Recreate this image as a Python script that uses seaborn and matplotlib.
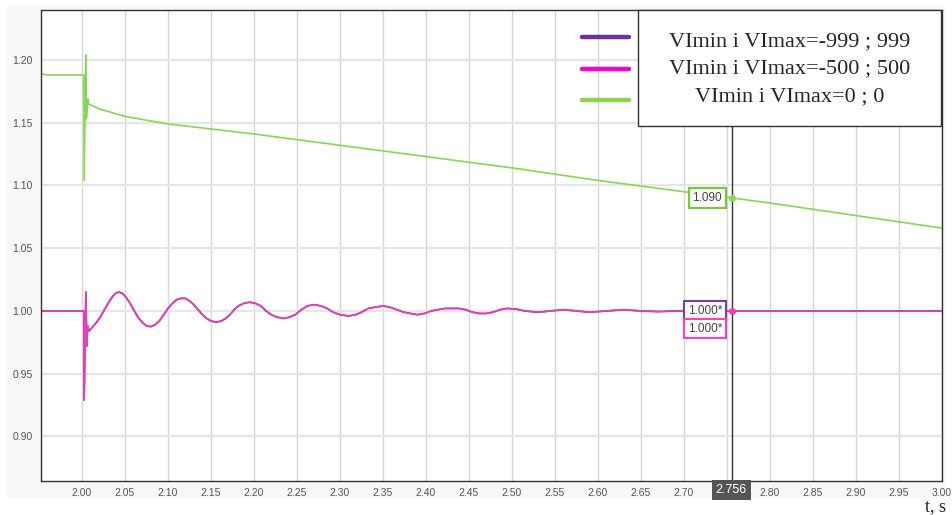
import numpy as np
import pandas as pd
import seaborn as sns
import matplotlib.pyplot as plt
from matplotlib.patches import Rectangle
from matplotlib.lines import Line2D

# data
green_t = [1.952, 1.960, 2.000, 2.0022, 2.0025, 2.0045, 2.0050, 2.0060, 2.0068, 2.0075,
           2.020, 2.050, 2.100, 2.200, 2.300, 2.400, 2.500, 2.600, 2.700, 2.756,
           2.800, 2.900, 3.000]
green_v = [1.189, 1.188, 1.188, 1.188, 1.104, 1.204, 1.153, 1.160, 1.169, 1.165,
           1.161, 1.155, 1.149, 1.141, 1.132, 1.123, 1.114, 1.104, 1.095, 1.090,
           1.086, 1.076, 1.066]

pink_t = [1.952, 2.000, 2.0022, 2.0025, 2.0045, 2.0055, 2.0065, 2.0080,
          2.012, 2.017, 2.022, 2.027, 2.032, 2.036, 2.040, 2.043, 2.047, 2.051,
          2.055, 2.060, 2.065, 2.070, 2.075, 2.080, 2.085, 2.090, 2.095, 2.100,
          2.105, 2.110, 2.115, 2.120, 2.125, 2.130, 2.135, 2.140, 2.145, 2.150,
          2.156, 2.162, 2.167, 2.172, 2.177, 2.182, 2.188, 2.195, 2.202, 2.208,
          2.214, 2.220, 2.227, 2.234, 2.241, 2.248, 2.255, 2.262, 2.270, 2.278,
          2.285, 2.292, 2.300, 2.310, 2.318, 2.325, 2.333, 2.341, 2.350, 2.358,
          2.366, 2.374, 2.382, 2.390, 2.398, 2.406, 2.414, 2.422, 2.430, 2.438,
          2.446, 2.454, 2.462, 2.470, 2.478, 2.486, 2.494, 2.505, 2.515, 2.530,
          2.545, 2.560, 2.575, 2.590, 2.610, 2.630, 2.650, 2.670, 2.690, 2.756,
          3.000]
pink_v = [1.000, 1.000, 1.000, 0.929, 1.015, 0.972, 0.988, 0.984,
          0.987, 0.991, 0.996, 1.002, 1.008, 1.012, 1.0145, 1.015, 1.014, 1.011,
          1.007, 1.001, 0.995, 0.991, 0.988, 0.9875, 0.989, 0.992, 0.997, 1.002,
          1.006, 1.009, 1.010, 1.010, 1.008, 1.005, 1.001, 0.997, 0.994, 0.992,
          0.991, 0.992, 0.994, 0.997, 1.001, 1.004, 1.006, 1.007, 1.006, 1.004,
          1.000, 0.997, 0.995, 0.994, 0.995, 0.997, 1.001, 1.004, 1.005, 1.004,
          1.002, 0.999, 0.997, 0.996, 0.997, 0.999, 1.002, 1.003, 1.004, 1.003,
          1.001, 0.999, 0.998, 0.997, 0.998, 1.000, 1.001, 1.002, 1.002, 1.002,
          1.001, 0.999, 0.998, 0.998, 0.999, 1.001, 1.002, 1.0015, 1.000, 0.999,
          1.000, 1.001, 1.000, 0.999, 1.000, 1.001, 1.000, 0.9995, 1.000, 1.000,
          1.000]

purple_t = pink_t
purple_v = pink_v

labels = ['VImin i VImax=-999 ; 999', 'VImin i VImax=-500 ; 500', 'VImin i VImax=0 ; 0']
line_colors = ['#7030a0', '#ea3db6', '#86d94f']
legend_colors = ['#7030a0', '#ff00cc', '#92d050']
box_colors = ['#7a3fa0', '#ff3ec0', '#6fcf2f']

cursor_t = 2.756
cursor_v = [1.000, 1.000, 1.090]
cursor_txt = ['1.000*', '1.000*', '1.090']

xticks = [2.00, 2.05, 2.10, 2.15, 2.20, 2.25, 2.30, 2.35, 2.40, 2.45, 2.50,
          2.55, 2.60, 2.65, 2.70, 2.75, 2.80, 2.85, 2.90, 2.95, 3.00]
yticks = [0.90, 0.95, 1.00, 1.05, 1.10, 1.15, 1.20]

df = pd.concat([
    pd.DataFrame({'t': purple_t, 'v': purple_v, 'series': labels[0]}),
    pd.DataFrame({'t': pink_t, 'v': pink_v, 'series': labels[1]}),
    pd.DataFrame({'t': green_t, 'v': green_v, 'series': labels[2]}),
])

sns.set_style('white')
plt.rcParams['font.family'] = ['Liberation Sans', 'DejaVu Sans']

W, H = 952, 515
fig = plt.figure(figsize=(W / 100, H / 100), dpi=100)
fig.patches.append(Rectangle((7 / W, (H - 497) / H), 938 / W, 492 / H,
                             transform=fig.transFigure, fc='#f8f8f8', ec='none', zorder=-10))
ax = fig.add_axes([41 / W, (H - 481) / H, 901 / W, 471 / H])

sns.lineplot(data=df, x='t', y='v', hue='series', palette=dict(zip(labels, line_colors)),
             estimator=None, sort=False, linewidth=1.2, legend=False, ax=ax)

ax.set_xlim(1.9523, 3.0)
ax.set_ylim(0.8645, 1.2398)
ax.set_xticks(xticks)
# 2.75 sits under the cursor time box
ax.set_xticklabels(['' if abs(x - 2.75) < 1e-9 else f'{x:.2f}' for x in xticks])
ax.set_yticks(yticks)
ax.set_yticklabels([f'{y:.2f}' for y in yticks])
ax.set_xlabel('')
ax.set_ylabel('')
ax.tick_params(labelsize=7.5, colors='#555555', length=3, width=0.8)
ax.tick_params(axis='x', pad=2, color='#cccccc')
ax.tick_params(axis='y', length=0, pad=6)
ax.xaxis.grid(True, color='#d6d6d6', lw=1)
ax.yaxis.grid(True, color='#e6e6e6', lw=1.6)
ax.set_axisbelow(True)
for s in ax.spines.values():
    s.set_color('#333333')
    s.set_linewidth(1)

# cursor
ax.axvline(cursor_t, color='#333333', lw=1, zorder=4)
for v, c in zip(cursor_v[1:], line_colors[1:]):
    ax.plot([cursor_t], [v], 'o', color=c, ms=4, zorder=5)
offsets = [0, -18, 0]
for v, txt, c, off in zip(cursor_v, cursor_txt, box_colors, offsets):
    ax.annotate(txt, xy=(cursor_t, v), xytext=(-10, off), textcoords='offset pixels',
                ha='right', va='center', fontsize=8.5, color='#444444', zorder=6,
                bbox=dict(boxstyle='square,pad=0.3', fc='white', ec=c, lw=1.5))
ax.annotate(f'{cursor_t:.3f}', xy=(cursor_t, 0), xycoords=('data', 'axes fraction'),
            xytext=(-1, -9), textcoords='offset pixels', ha='center', va='center',
            fontsize=9, color='white', zorder=10, annotation_clip=False,
            bbox=dict(boxstyle='square,pad=0.3', fc='#555555', ec='none'))

# legend: handles outside the text box
handles = [Line2D([], [], color=c, lw=3.2, solid_capstyle='round') for c in legend_colors]
leg = fig.legend(handles, ['', '', ''], loc='upper left', bbox_to_anchor=(582 / W, 1 - 31 / H),
                 frameon=False, handlelength=2.8, handletextpad=0, labelspacing=1.0,
                 fontsize=12, borderpad=0, borderaxespad=0)
fig.patches.append(Rectangle((638 / W, (H - 126) / H), 303 / W, 116 / H,
                             transform=fig.transFigure, fc='white', ec='#333333', lw=1, zorder=20))
fig.text(790 / W, 1 - 69 / H, '\n'.join(labels), ha='center', va='center', fontsize=16,
         family='Liberation Serif', linespacing=1.6, zorder=21)

fig.text(946 / W, 0, 't, s', ha='right', va='bottom', fontsize=13,
         family='Liberation Serif')

fig.savefig('out.png', dpi=100)
